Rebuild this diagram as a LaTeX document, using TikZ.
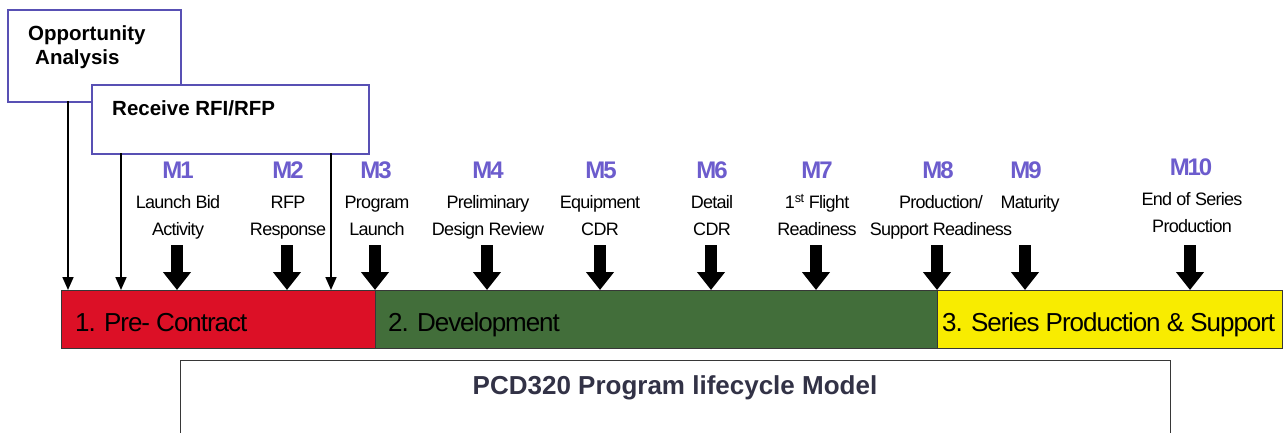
\documentclass[tikz,border=0pt]{standalone}
\usepackage{fontspec}
\setmainfont{Liberation Sans}
\newfontfamily\tightfont[LetterSpace=-4]{Liberation Sans}
\newfontfamily\mfont[LetterSpace=-9]{Liberation Sans}
\usetikzlibrary{arrows.meta}
\definecolor{prered}{RGB}{220,16,38}
\definecolor{devgreen}{RGB}{66,110,58}
\definecolor{seryellow}{RGB}{248,236,0}
\definecolor{mpurple}{RGB}{108,92,205}
\definecolor{boxblue}{RGB}{88,80,180}
\definecolor{titlegray}{RGB}{50,50,70}
\definecolor{bargray}{RGB}{55,55,55}
\begin{document}
\begin{tikzpicture}[x=1pt,y=-1pt,
  topbox/.style={draw=boxblue,line width=1.5pt,fill=white,rectangle,inner sep=0pt,anchor=north west},
  boxtext/.style={font=\fontsize{20.5}{24}\selectfont\bfseries,text=black,inner sep=0pt,align=left},
  phase/.style={draw=bargray,line width=1.3pt,rectangle,inner sep=0pt,anchor=north west,minimum height=58pt},
  phasetext/.style={font=\tightfont\fontsize{26}{30}\selectfont,text=black,inner sep=0pt,anchor=base west},
  mlabel/.style={font=\mfont\fontsize{24}{28}\selectfont\bfseries,text=mpurple,inner sep=0pt,anchor=base},
  mdesc/.style={font=\tightfont\fontsize{18}{22}\selectfont,text=black,inner sep=0pt,anchor=base},
  thinarrow/.style={draw=black,line width=1.6pt,-{Triangle[width=11pt,length=13pt]}},
  bigarrow/.style={draw=black,line width=12pt,-{Triangle[width=27pt,length=18pt]}}
]
\clip (0,0) rectangle (1285,432);
\fill[white] (0,0) rectangle (1285,432);

% top boxes
\node[topbox,minimum width=173pt,minimum height=92pt] (opp) at (7,9) {};
\node[boxtext,anchor=north west] (opptext) at (28,25) {Opportunity\\\hspace*{7pt}Analysis};
\node[topbox,minimum width=277pt,minimum height=69pt] (rfi) at (91,84) {};
\node[boxtext,anchor=west] (rfitext) at (112,108) {Receive RFI/RFP};

% phase bar
\node[phase,fill=prered,minimum width=314pt] (pre) at (61,290) {};
\node[phase,fill=devgreen,minimum width=562pt] (dev) at (375,290) {};
\node[phase,fill=seryellow,minimum width=345pt] (ser) at (937,290) {};
\node[phasetext] (pretext) at (75,331) {1. Pre- Contract};
\node[phasetext] (devtext) at (388,331) {2. Development};
\node[phasetext] (sertext) at (942,331) {3. Series Production \& Support};

% thin arrows
\coordinate (t1) at (68,101);
\coordinate (t2) at (121,153);
\coordinate (t3) at (331,153);
\draw[thinarrow] (t1) -- (t1 |- pre.north);
\draw[thinarrow] (t2) -- (t2 |- pre.north);
\draw[thinarrow] (t3) -- (t3 |- pre.north);

% milestones
\foreach \i/\x/\dx/\dy/\la/\lb in {
  1/177/178/0/Launch Bid/Activity,
  2/287/288/0/RFP/Response,
  3/375/377/0/Program/Launch,
  4/487/488/0/Preliminary/Design Review,
  5/600/600/0/Equipment/CDR,
  6/711/712/0/Detail/CDR,
  7/816/817/0/1\textsuperscript{st} Flight/Readiness,
  8/937/941/0/{Production/}/Support Readiness,
  9/1025/1030/0/Maturity/{},
  10/1190/1192/-3/End of Series/Production}{
  \node[mlabel] (m\i) at (\x+1,178+\dy) {M\i};
  \node[mdesc] (da\i) at (\dx,208.5+\dy) {\la};
  \node[mdesc] (db\i) at (\dx,235.5+\dy) {\lb};
  \coordinate (a\i) at (\x,245);
  \draw[bigarrow] (a\i) -- (a\i |- pre.north);
}

% bottom title box
\node[draw=bargray,line width=1.3pt,rectangle,inner sep=0pt,anchor=north west,minimum width=990pt,minimum height=120pt] (title) at (180,360) {};
\node[font=\fontsize{26}{30}\selectfont\bfseries,text=titlegray,inner sep=0pt] (titletext) at (675,388) {PCD320 Program lifecycle Model};
\end{tikzpicture}
\end{document}
